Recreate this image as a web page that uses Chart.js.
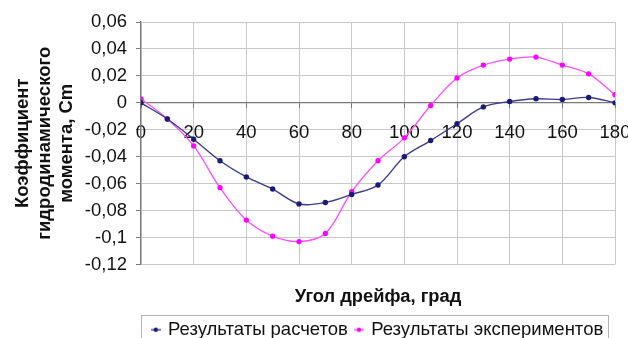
<!DOCTYPE html>
<html>
<head>
<meta charset="utf-8">
<script src="https://cdn.jsdelivr.net/npm/chart.js@4"></script>
<style>
html,body{margin:0;padding:0;background:#fff;overflow:hidden;}
#wrap{width:628px;height:351px;position:relative;}
</style>
</head>
<body>
<div id="wrap"><canvas id="c" width="628" height="351"></canvas></div>
<script>
const angles = [0,10,20,30,40,50,60,70,80,90,100,110,120,130,140,150,160,170,180];
const calcValues = [0,-0.012,-0.027,-0.043,-0.055,-0.064,-0.075,-0.074,-0.068,-0.061,-0.040,-0.028,-0.0155,-0.003,0.001,0.003,0.0025,0.004,0];
const expValues = [0.003,-0.012,-0.032,-0.063,-0.087,-0.099,-0.103,-0.097,-0.066,-0.043,-0.026,-0.002,0.0185,0.028,0.0325,0.034,0.028,0.0215,0.006];
const seriesNames = ['Результаты расчетов','Результаты экспериментов'];
const yTickLabels = ['-0,12','-0,1','-0,08','-0,06','-0,04','-0,02','0','0,02','0,04','0,06'];
const xTickLabels = ['0','20','40','60','80','100','120','140','160','180'];
const xTitle = 'Угол дрейфа, град';
const yTitle = ['Коэффициент','гидродинамического','момента, Cm'];

const FONT = "'Liberation Sans', Arial, sans-serif";
const blueLine = '#3b3b8f', bluePt = '#1a1a78';
const pinkLine = '#ff4dff', pinkPt = '#ff00ff';

function marker(lineC, ptC){
  const cv = document.createElement('canvas');
  cv.width = 10; cv.height = 8;
  const g = cv.getContext('2d');
  g.strokeStyle = lineC; g.lineWidth = 1.4;
  g.beginPath(); g.moveTo(0,4); g.lineTo(10,4); g.stroke();
  g.fillStyle = ptC; g.beginPath(); g.arc(5,4,2.2,0,Math.PI*2); g.fill();
  return cv;
}
const markers = [marker(blueLine,bluePt), marker(pinkLine,pinkPt)];

const legendBorder = {
  id:'legendBorder',
  afterDraw(chart){
    const lg = chart.legend;
    if(!lg || !lg.legendHitBoxes.length) return;
    const hb = lg.legendHitBoxes;
    let l = Infinity, r = -Infinity, t = Infinity, b = -Infinity;
    hb.forEach(h=>{l=Math.min(l,h.left);r=Math.max(r,h.left+h.width);t=Math.min(t,h.top);b=Math.max(b,h.top+h.height);});
    const ctx = chart.ctx;
    ctx.save();
    ctx.strokeStyle = '#b4b4b4'; ctx.lineWidth = 1;
    ctx.strokeRect(Math.round(l-12)+0.5, Math.round(t-6)+0.5, Math.round(r-l+17), Math.round(b-t+14));
    ctx.restore();
  }
};

new Chart(document.getElementById('c'), {
  type:'line',
  data:{
    labels: angles,
    datasets:[
      {label:seriesNames[0], data:calcValues, borderColor:blueLine, backgroundColor:bluePt, pointBackgroundColor:bluePt, pointBorderColor:bluePt, borderWidth:1.4, pointRadius:2, tension:0.35, fill:false},
      {label:seriesNames[1], data:expValues, borderColor:pinkLine, backgroundColor:pinkPt, pointBackgroundColor:pinkPt, pointBorderColor:pinkPt, borderWidth:1.3, pointRadius:2, tension:0.35, fill:false}
    ]
  },
  options:{
    responsive:false,
    animation:false,
    layout:{padding:{top:22,right:13,left:0,bottom:2}},
    scales:{
      x:{
        type:'linear', min:0, max:180,
        position:{y:0},
        afterBuildTicks(s){ s.ticks = xTickLabels.map(v=>({value:Number(v)})); },
        afterFit(s){ s.paddingLeft=0; s.paddingRight=0; },
        ticks:{ callback:(v)=>xTickLabels[xTickLabels.indexOf(String(v))], font:{family:FONT,size:18.5}, color:'#111', padding:14, maxRotation:0, autoSkip:false },
        grid:{ color:'#c8c8c8', lineWidth:1, drawTicks:true, tickLength:5, tickColor:'#7a7a7a' },
        border:{ display:true, color:'#7a7a7a', width:1.2 }
      },
      x2:{
        type:'linear', min:0, max:180, position:'bottom', axis:'x',
        ticks:{display:false},
        grid:{display:false, drawTicks:false},
        border:{display:false},
        afterFit(s){ s.height = 48; s.paddingLeft=0; s.paddingRight=0; },
        title:{ display:true, text:xTitle, font:{family:FONT,size:18.3,weight:'bold'}, color:'#111', padding:{top:0,bottom:5} }
      },
      y:{
        min:-0.12, max:0.06,
        afterBuildTicks(s){ s.ticks = yTickLabels.map((t,i)=>({value:-0.12+0.02*i})); },
        afterFit(s){ s.width = 141; },
        ticks:{ callback:(v,i)=>yTickLabels[i], font:{family:FONT,size:18.5}, color:'#111', padding:9 },
        grid:{ color:'#c8c8c8', lineWidth:1, drawTicks:true, tickLength:5, tickColor:'#7a7a7a' },
        border:{ display:true, color:'#7a7a7a', width:1.2 },
        title:{ display:true, text:yTitle, font:{family:FONT,size:18.5,weight:'bold',lineHeight:1.19}, color:'#111', padding:{top:12,bottom:0} }
      }
    },
    plugins:{
      legend:{
        position:'bottom',
        fullSize:false,
        labels:{
          usePointStyle:true, boxWidth:6, boxHeight:8, padding:8,
          font:{family:FONT,size:18.5}, color:'#111',
          generateLabels(chart){
            const items = Chart.defaults.plugins.legend.labels.generateLabels(chart);
            items.forEach((it,i)=>{ it.pointStyle = markers[i]; });
            return items;
          }
        }
      },
      tooltip:{enabled:false}
    }
  },
  plugins:[legendBorder]
});
</script>
</body>
</html>
